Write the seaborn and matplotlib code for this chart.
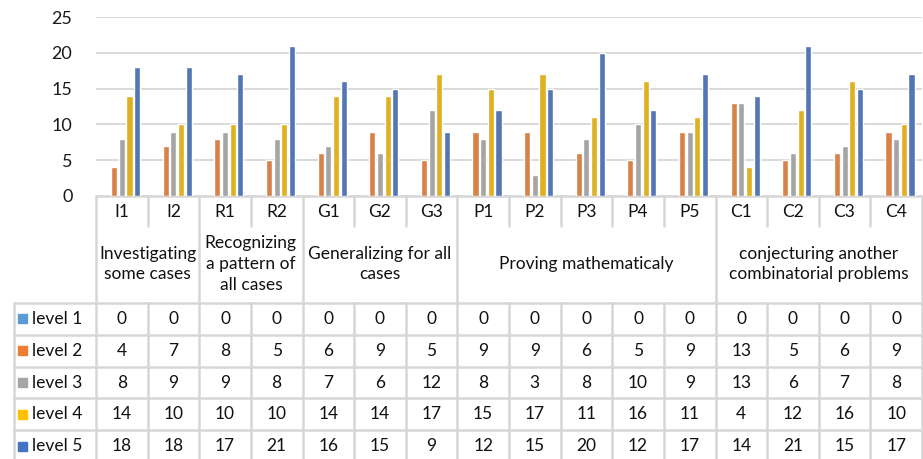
import matplotlib
matplotlib.use("Agg")
import matplotlib.pyplot as plt
import seaborn as sns
import pandas as pd

# Item codes and scores per level
categories = ["I1", "I2", "R1", "R2", "G1", "G2", "G3", "P1", "P2", "P3",
              "P4", "P5", "C1", "C2", "C3", "C4"]
levels = ["level 1", "level 2", "level 3", "level 4", "level 5"]
level1 = [0, 0, 0, 0, 0, 0, 0, 0, 0, 0, 0, 0, 0, 0, 0, 0]
level2 = [4, 7, 8, 5, 6, 9, 5, 9, 9, 6, 5, 9, 13, 5, 6, 9]
level3 = [8, 9, 9, 8, 7, 6, 12, 8, 3, 8, 10, 9, 13, 6, 7, 8]
level4 = [14, 10, 10, 10, 14, 14, 17, 15, 17, 11, 16, 11, 4, 12, 16, 10]
level5 = [18, 18, 17, 21, 16, 15, 9, 12, 15, 20, 12, 17, 14, 21, 15, 17]

# Aspect groups and how many items each covers
group_labels = ["Investigating\nsome cases",
                "Recognizing\na pattern of\nall cases",
                "Generalizing for all\ncases",
                "Proving mathematicaly",
                "conjecturing another\ncombinatorial problems"]
group_sizes = [2, 2, 3, 5, 4]

colors = ["#5B9BD5", "#ED7D31", "#A5A5A5", "#FFC000", "#4472C4"]

series = [level1, level2, level3, level4, level5]
df = pd.DataFrame({
    "item": [c for s in series for c in categories],
    "level": [lv for lv, s in zip(levels, series) for _ in s],
    "score": [v for s in series for v in s],
})

sns.set_theme(style="white")
plt.rcParams["font.family"] = ["Lato", "DejaVu Sans"]

W, H = 923, 459
fig = plt.figure(figsize=(W / 100, H / 100), dpi=100)
fig.patch.set_facecolor("white")

# pixel geometry
x0, x1 = 96, 922
y_top, y_zero = 17, 196
cw = (x1 - x0) / len(categories)

# table overlay in pixel coordinates
tab = fig.add_axes([0, 0, 1, 1])
tab.set_xlim(0, W)
tab.set_ylim(H, 0)
tab.axis("off")

ax = fig.add_axes([x0 / W, 1 - y_zero / H, (x1 - x0) / W, (y_zero - y_top) / H])
ax.patch.set_alpha(0)
sns.barplot(data=df, x="item", y="score", hue="level", order=categories,
            hue_order=levels, palette=colors, width=0.74, gap=0.2,
            ax=ax, legend=False, zorder=3)
ax.set_xlim(-0.5, len(categories) - 0.5)
ax.set_ylim(0, 25)
ax.set_yticks([0, 5, 10, 15, 20, 25])
ax.yaxis.grid(True, color="#d9d9d9", lw=1.4, zorder=0)
ax.set_axisbelow(True)
for sp in ax.spines.values():
    sp.set_visible(False)
ax.set_xticks([])
ax.set_xlabel("")
ax.set_ylabel("")
ax.tick_params(axis="y", length=0, pad=17, labelsize=13, labelcolor="#1a1a1a")

fs = 12.5
line_kw = dict(color="#d6d6d6", lw=1.8, zorder=1)
txt_kw = dict(fontsize=fs, color="#111111", ha="center", va="center")

# category row and group row
y_cat_bot, y_grp_bot = 226, 303
tab.plot([x0, x1 + 1], [y_zero, y_zero], **line_kw)
for i, c in enumerate(categories):
    tab.text(x0 + (i + 0.5) * cw, 212, c, **txt_kw)

bounds = [0]
for s in group_sizes:
    bounds.append(bounds[-1] + s)
for i in range(len(categories) + 1):
    xx = x0 + i * cw
    if i in bounds:
        tab.plot([xx, xx], [y_zero, y_grp_bot], **line_kw)
    else:
        tab.plot([xx, xx], [y_zero, y_cat_bot], **line_kw)
for g, lab in enumerate(group_labels):
    xc = x0 + (bounds[g] + bounds[g + 1]) / 2 * cw
    tab.text(xc, 264, lab, linespacing=1.35, **txt_kw)

# data rows
row_top = 303
row_h = 31.8
left = 14
for r in range(len(levels) + 1):
    yy = row_top + r * row_h
    if yy < H:
        tab.plot([left, x1 + 1], [yy, yy], **line_kw)
for i in range(len(categories) + 1):
    xx = x0 + i * cw
    tab.plot([xx, xx], [row_top, H], **line_kw)
tab.plot([left, left], [row_top, H], **line_kw)

for r, (lv, s, col) in enumerate(zip(levels, series, colors)):
    yc = row_top + (r + 0.5) * row_h
    tab.add_patch(plt.Rectangle((18, yc - 4.5), 9, 9, color=col, zorder=2))
    tab.text(32, yc, lv, fontsize=fs, color="#111111", ha="left", va="center")
    for i, v in enumerate(s):
        tab.text(x0 + (i + 0.5) * cw, yc, str(v), **txt_kw)

fig.savefig("out.png", dpi=100, facecolor="white")
